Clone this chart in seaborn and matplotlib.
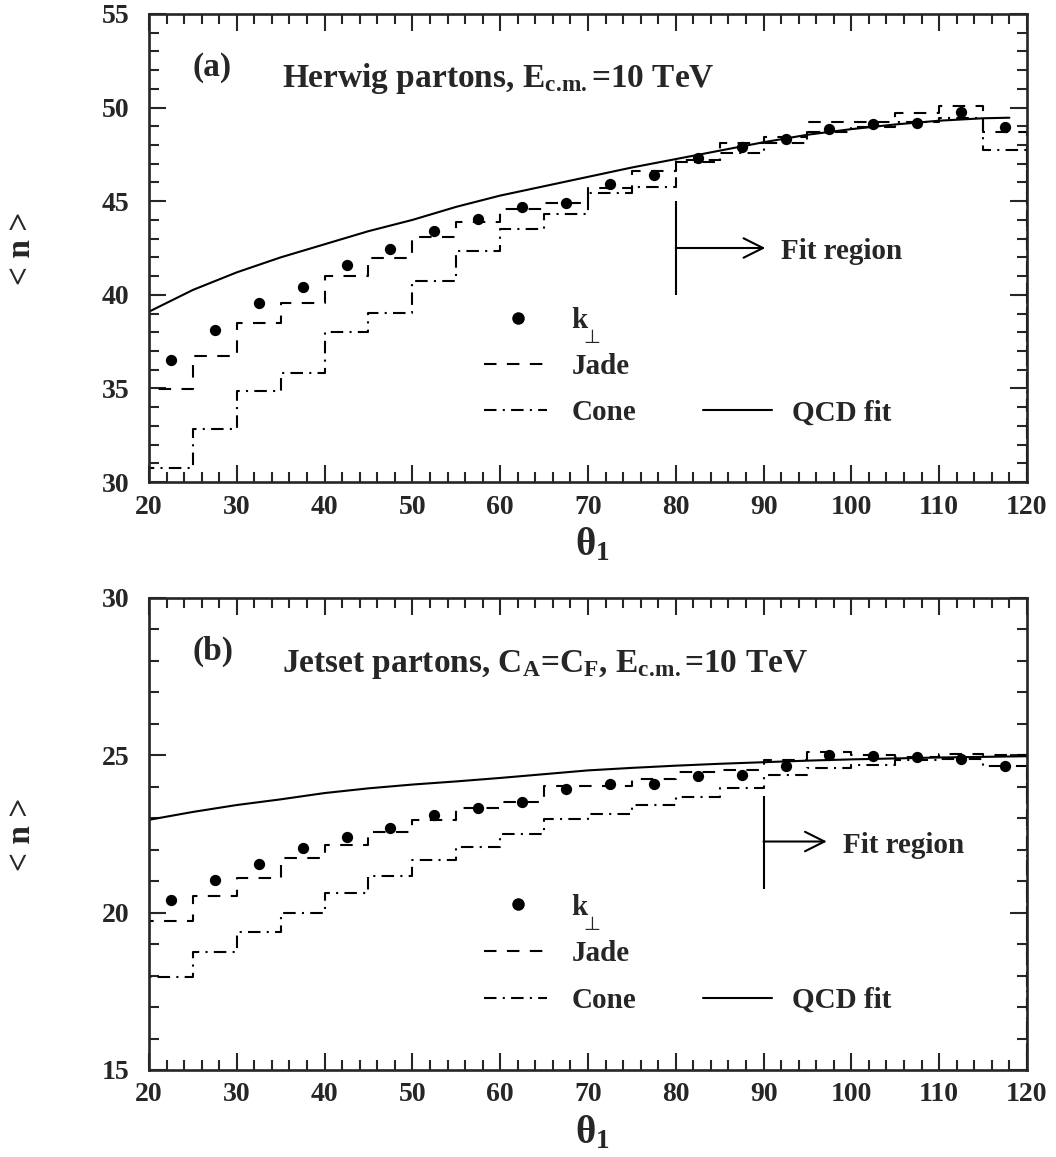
import numpy as np
import seaborn as sns
import matplotlib.pyplot as plt

sns.set_style("ticks")
plt.rcParams['font.family'] = ['Liberation Serif', 'DejaVu Serif']
plt.rcParams['font.weight'] = 'bold'
plt.rcParams['mathtext.fontset'] = 'custom'
plt.rcParams['mathtext.rm'] = 'Liberation Serif'
plt.rcParams['mathtext.bf'] = 'Liberation Serif:bold'
plt.rcParams['mathtext.it'] = 'Liberation Serif:italic:bold'

# bin edges in theta_1 and bin centres for the k_perp points
theta_edges = [20, 25, 30, 35, 40, 45, 50, 55, 60, 65, 70,
               75, 80, 85, 90, 95, 100, 105, 110, 115, 120]
theta_mid = [22.5, 27.5, 32.5, 37.5, 42.5, 47.5, 52.5, 57.5, 62.5, 67.5,
             72.5, 77.5, 82.5, 87.5, 92.5, 97.5, 102.5, 107.5, 112.5, 117.5]

# (a) Herwig partons
kt_a = [36.52, 38.12, 39.55, 40.40, 41.59, 42.46, 43.43, 44.03, 44.67, 44.90,
        45.92, 46.40, 47.33, 47.91, 48.30, 48.84, 49.10, 49.20, 49.75, 48.98]
jade_a = [34.97, 36.73, 38.51, 39.55, 41.02, 41.98, 43.10, 43.91, 44.57, 44.92,
          45.70, 46.60, 47.20, 48.09, 48.45, 49.25, 49.21, 49.70, 50.10, 48.70]
cone_a = [30.76, 32.83, 34.86, 35.84, 38.03, 39.01, 40.75, 42.34, 43.50, 44.32,
          45.42, 45.74, 47.07, 47.56, 48.09, 48.71, 48.98, 49.25, 49.43, 47.73]
qcd_theta_a = [20, 25, 30, 35, 40, 45, 50, 55, 60, 65, 70, 75, 80, 85, 90,
               95, 100, 105, 110, 115, 118]
qcd_a = [39.1, 40.26, 41.2, 42.0, 42.7, 43.4, 44.0, 44.7, 45.3, 45.8, 46.3,
         46.8, 47.25, 47.7, 48.15, 48.55, 48.85, 49.1, 49.3, 49.43, 49.46]

# (b) Jetset partons, CA=CF
kt_b = [20.41, 21.04, 21.54, 22.05, 22.39, 22.69, 23.11, 23.32, 23.53, 23.93,
        24.09, 24.09, 24.35, 24.38, 24.67, 25.02, 24.99, 24.93, 24.89, 24.67]
jade_b = [19.74, 20.53, 21.10, 21.73, 22.16, 22.55, 22.95, 23.32, 23.53, 24.01,
          24.03, 24.24, 24.47, 24.54, 24.84, 25.12, 25.02, 24.94, 25.05, 25.00]
cone_b = [17.97, 18.76, 19.40, 20.00, 20.64, 21.17, 21.66, 22.08, 22.50, 22.97,
          23.14, 23.43, 23.66, 23.96, 24.38, 24.59, 24.70, 24.86, 24.89, 24.65]
qcd_theta_b = [20, 25, 30, 35, 40, 45, 50, 55, 60, 65, 70, 75, 80, 85, 90,
               95, 100, 105, 110, 115, 120]
qcd_b = [22.95, 23.2, 23.42, 23.6, 23.8, 23.95, 24.07, 24.17, 24.28, 24.4, 24.52,
         24.6, 24.67, 24.73, 24.78, 24.83, 24.87, 24.9, 24.93, 24.95, 24.97]

JADE_LS = (0, (6, 5))
CONE_LS = (0, (6, 3, 1, 3))
LW = 1.5


def step_outline(edges, vals):
    # closed histogram outline (drops to zero at both ends)
    xs = [edges[0]] + list(edges) + [edges[-1]]
    ys = [0] + list(vals) + [vals[-1], 0]
    return xs, ys


def draw_panel(ax, kt, jade, cone, qcd_x, qcd_y, ylim, tag, title,
               fit_x, fit_lo, fit_hi, fit_y, fit_end, fit_text_x, fit_text_y):
    for vals, ls in [(jade, JADE_LS), (cone, CONE_LS)]:
        xs, ys = step_outline(theta_edges, vals)
        sns.lineplot(x=xs, y=ys, ax=ax, estimator=None, sort=False,
                     drawstyle='steps-post', color='black', lw=LW, linestyle=ls)
    sns.lineplot(x=qcd_x, y=qcd_y, ax=ax, estimator=None, color='black', lw=LW)
    sns.scatterplot(x=theta_mid, y=kt, ax=ax, color='black', s=66,
                    linewidth=0, zorder=5)

    ax.set_xlim(20, 120)
    ax.set_ylim(*ylim)
    ax.set_xticks(np.arange(20, 121, 10))
    ax.set_xticks(np.arange(20, 121, 2), minor=True)
    ax.set_yticks(np.arange(ylim[0], ylim[1] + 1, 5))
    ax.set_yticks(np.arange(ylim[0], ylim[1] + 1, 1), minor=True)
    ax.tick_params(which='both', direction='in', top=True, right=True,
                   width=1.5, labelsize=20)
    ax.tick_params(which='major', length=12.5)
    ax.tick_params(which='minor', length=7)
    ax.tick_params(axis='y', pad=14)
    ax.tick_params(axis='x', pad=9)
    for sp in ax.spines.values():
        sp.set_linewidth(1.9)
    for lab in ax.get_xticklabels() + ax.get_yticklabels():
        lab.set_fontweight('bold')

    ax.set_xlabel(r'$\mathrm{\theta}_{\mathbf{1}}$', fontsize=28)
    ax.xaxis.set_label_coords(0.505, -0.095)
    ax.set_ylabel('< n >', fontsize=24, fontweight='bold')
    ax.yaxis.set_label_coords(-0.128, 0.5)

    # panel tag and title
    ax.text(0.05, 0.868, tag, transform=ax.transAxes, fontsize=24,
            fontweight='bold', va='baseline')
    ax.text(0.151, 0.844, title, transform=ax.transAxes, fontsize=24,
            fontweight='bold', va='baseline')

    # fit region marker
    ax.vlines(fit_x, fit_lo, fit_hi, color='black', lw=LW)
    ax.annotate('', xy=(fit_end, fit_y), xytext=(fit_x, fit_y),
                arrowprops=dict(arrowstyle='->,head_length=0.7,head_width=0.35',
                                lw=LW, color='black', mutation_scale=20,
                                shrinkA=0, shrinkB=0))
    ax.text(fit_text_x, fit_text_y, 'Fit region', fontsize=21,
            fontweight='bold', va='baseline')

    # hand-made legend
    tr = ax.transAxes
    ax.plot([0.42], [0.351], 'o', color='black', ms=8, transform=tr)
    ax.text(0.481, 0.329, 'k', transform=tr, fontsize=21,
            fontweight='bold', va='baseline')
    ax.text(0.495, 0.296, '\u22a5', transform=tr, fontsize=14,
            family=['DejaVu Sans'], fontweight='normal', va='baseline')
    ax.plot([0.381, 0.453], [0.252, 0.252], color='black', lw=LW,
            linestyle=JADE_LS, transform=tr)
    ax.text(0.481, 0.231, 'Jade', transform=tr, fontsize=21,
            fontweight='bold', va='baseline')
    ax.plot([0.381, 0.453], [0.153, 0.153], color='black', lw=LW,
            linestyle=CONE_LS, transform=tr)
    ax.text(0.481, 0.132, 'Cone', transform=tr, fontsize=21,
            fontweight='bold', va='baseline')
    ax.plot([0.631, 0.71], [0.153, 0.153], color='black', lw=LW, transform=tr)
    ax.text(0.732, 0.132, 'QCD fit', transform=tr, fontsize=21,
            fontweight='bold', va='baseline')


fig = plt.figure(figsize=(10.56, 11.57), dpi=100)
ax_a = fig.add_axes([0.1411, 0.5834, 0.8314, 0.4045])
ax_b = fig.add_axes([0.1411, 0.0752, 0.8314, 0.4080])

draw_panel(ax_a, kt_a, jade_a, cone_a, qcd_theta_a, qcd_a, (30, 55), '(a)',
           r'Herwig partons, E$_{\mathbf{c.\!m.}}$=10 TeV',
           80, 40, 45, 42.5, 90.2, 92, 41.9)
draw_panel(ax_b, kt_b, jade_b, cone_b, qcd_theta_b, qcd_b, (15, 30), '(b)',
           r'Jetset partons, C$_{\mathbf{A}}$=C$_{\mathbf{F}}$, E$_{\mathbf{c.\!m.}}$=10 TeV',
           90, 20.76, 23.71, 22.26, 97.2, 99.1, 21.89)

fig.savefig('out.png', dpi=100)
